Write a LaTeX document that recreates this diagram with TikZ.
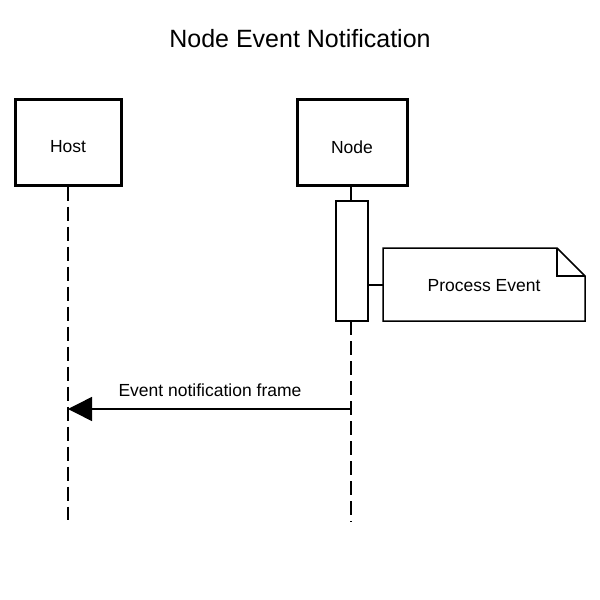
\documentclass[tikz,border=0pt]{standalone}
\usepackage{fontspec}
\setmainfont{Liberation Sans}
\usetikzlibrary{arrows.meta}
\begin{document}
\begin{tikzpicture}[x=1pt,y=-1pt,
  actor/.style={draw,line width=3pt,minimum width=106pt,minimum height=86pt,inner sep=0pt},
  life/.style={line width=1.5pt,dash pattern=on 14pt off 6pt},
  lbl/.style={font=\fontsize{17.5}{20}\selectfont}]
\useasboundingbox (0,0) rectangle (600,600);
\node[font=\fontsize{25}{30}\selectfont] (title) at (300,39) {Node Event Notification};
\node[actor] (host) at (68,142) {};
\node[actor,minimum width=110pt] (node) at (352,142) {};
\node[lbl] (hostt) at (68,147) {Host};
\node[lbl] (nodet) at (352,147) {Node};
\coordinate (hend) at (68,520);
\coordinate (nend) at (351,522);
\node[draw,line width=1.5pt,minimum width=32pt,minimum height=120pt,inner sep=0pt] (act) at (352,261) {};
\draw[life] (host.south) -- (hend);
\draw[line width=1.5pt] (351,186) -- (351,201);
\draw[life] (351,321) -- (nend);
\draw[line width=1.5pt] (383,248) -- (557,248) -- (585,276) -- (585,321) -- (383,321) -- cycle;
\draw[line width=1.5pt] (557,248) -- (557,276) -- (585,276);
\node[lbl] (note) at (484,286) {Process Event};
\draw[line width=1.5pt] (368,285) -- (383,285);
\coordinate (a1) at (351,409);
\coordinate (a2) at (68,409);
\draw[line width=1.5pt,-{Triangle[length=24pt,width=24pt]}] (a1) -- (a2);
\node[lbl] (msg) at (210,390) {Event notification frame};
\end{tikzpicture}
\end{document}
